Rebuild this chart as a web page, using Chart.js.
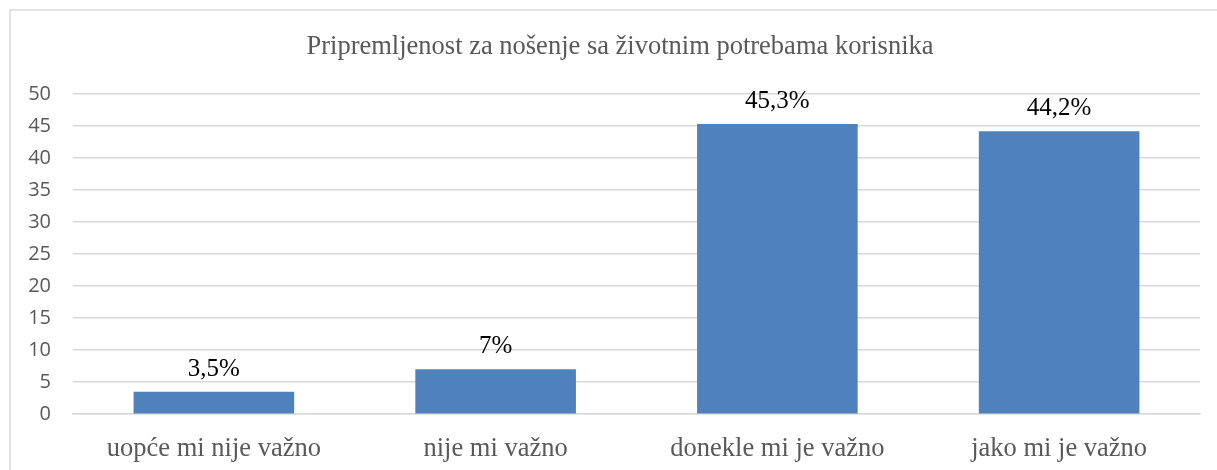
<!DOCTYPE html>
<html>
<head>
<meta charset="utf-8">
<script src="https://cdn.jsdelivr.net/npm/chart.js@4"></script>
<style>
  html, body { margin: 0; padding: 0; background: #fff; }
  #wrap { width: 1217px; height: 470px; position: relative; }
</style>
</head>
<body>
<div id="wrap"><canvas id="barChart"></canvas></div>
<script>
const categories = ["uopće mi nije važno", "nije mi važno", "donekle mi je važno", "jako mi je važno"];
const values = [3.5, 7, 45.3, 44.2];
const valueLabels = ["3,5%", "7%", "45,3%", "44,2%"];
const titleText = "Pripremljenost za nošenje sa životnim potrebama korisnika";

// frame, title (centred on the frame, not the canvas) and value labels above bars
const frameAndLabels = {
  id: 'frameAndLabels',
  beforeDraw(chart) {
    const ctx = chart.ctx;
    ctx.save();
    ctx.fillStyle = '#fff';
    ctx.fillRect(0, 0, chart.width, chart.height);
    ctx.strokeStyle = '#d9d9d9';
    ctx.lineWidth = 1.5;
    ctx.strokeRect(10, 10, chart.width + 20, chart.height + 20);
    ctx.font = '26.5px "Liberation Serif"';
    ctx.fillStyle = '#595959';
    ctx.textAlign = 'center';
    ctx.textBaseline = 'middle';
    ctx.fillText(titleText, (10 + chart.width + 13) / 2, 47);
    ctx.restore();
  },
  afterDatasetsDraw(chart) {
    const ctx = chart.ctx;
    const meta = chart.getDatasetMeta(0);
    ctx.save();
    ctx.font = '25px "Liberation Serif"';
    ctx.fillStyle = '#000';
    ctx.textAlign = 'center';
    ctx.textBaseline = 'alphabetic';
    meta.data.forEach((bar, i) => {
      ctx.fillText(valueLabels[i], bar.x, bar.y - 16);
    });
    ctx.restore();
  }
};

let myBarChart = new Chart(document.getElementById('barChart'), {
  type: 'bar',
  data: {
    labels: categories,
    datasets: [{
      data: values,
      backgroundColor: '#4f81bd',
      categoryPercentage: 0.57,
      barPercentage: 1
    }]
  },
  options: {
    responsive: true,
    maintainAspectRatio: false,
    animation: false,
    layout: { padding: { left: 0, right: 17, top: 94, bottom: -14 } },
    plugins: {
      legend: { display: false },
      tooltip: { enabled: false },
      title: { display: false }
    },
    scales: {
      x: {
        grid: { display: false, drawTicks: false },
        border: { display: true, color: '#d9d9d9', width: 1.5 },
        ticks: {
          color: '#595959',
          font: { family: 'Liberation Serif', size: 26.5 },
          padding: 19,
          maxRotation: 0
        }
      },
      y: {
        min: 0,
        max: 50,
        afterFit(scale) { scale.width = 73; },
        grid: { color: '#d9d9d9', lineWidth: 1.5, drawTicks: false },
        border: { display: false },
        ticks: {
          stepSize: 5,
          color: '#595959',
          font: { family: 'Open Sans', size: 20 },
          padding: 22
        }
      }
    }
  },
  plugins: [frameAndLabels]
});
</script>
</body>
</html>
